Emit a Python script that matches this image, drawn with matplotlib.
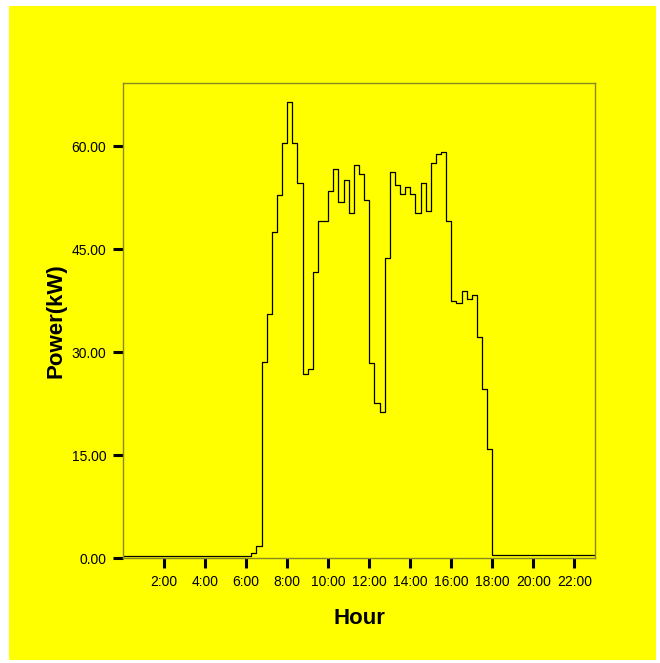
import numpy as np
import matplotlib
matplotlib.use("Agg")
import matplotlib.pyplot as plt
from matplotlib.patches import Rectangle

plt.rcParams['font.family'] = ['Liberation Sans', 'DejaVu Sans']

# 15-minute power readings (kW), starting at 0:00
night_am = [0.35] * 25  # 0:00 - 6:00
day = [
    0.7, 1.8, 28.6,                      # 6:15 - 6:45
    35.5, 47.5, 52.9, 60.5,              # 7:00 - 7:45
    66.5, 60.5, 54.6, 26.8,              # 8:00 - 8:45
    27.5, 41.6, 49.1, 49.1,              # 9:00 - 9:45
    53.4, 56.7, 51.9, 55.0,              # 10:00 - 10:45
    50.3, 57.2, 55.9, 52.1,              # 11:00 - 11:45
    28.4, 22.6, 21.2, 43.7,              # 12:00 - 12:45
    56.2, 54.3, 53.0, 54.1,              # 13:00 - 13:45
    53.1, 50.2, 54.6, 50.5,              # 14:00 - 14:45
    57.6, 58.8, 59.1, 49.1,              # 15:00 - 15:45
    37.5, 37.1, 38.9, 37.7,              # 16:00 - 16:45
    38.3, 32.2, 24.6, 15.9,              # 17:00 - 17:45
]
night_pm = [0.4] * 21  # 18:00 - 23:00
power = night_am + day + night_pm
hours = np.arange(len(power)) * 0.25

xticks = [2, 4, 6, 8, 10, 12, 14, 16, 18, 20, 22]
xticklabels = [f"{h}:00" for h in xticks]
yticks = [0, 15, 30, 45, 60]
yticklabels = [f"{v:.2f}" for v in yticks]

fig = plt.figure(figsize=(6.6, 6.63), dpi=100, facecolor="white")
fig.patches.append(Rectangle((9 / 660, 3 / 663), 647 / 660, 654 / 663,
                             transform=fig.transFigure, facecolor="#ffff00",
                             edgecolor="none", zorder=-10))

ax = fig.add_axes([123 / 660, 1 - 558 / 663, 472 / 660, 475 / 663])
ax.set_facecolor("#ffff00")
ax.step(hours, power, where="post", color="black", linewidth=0.9)

ax.set_xlim(0, 23)
ax.set_ylim(0, 69.2)
ax.set_xticks(xticks)
ax.set_xticklabels(xticklabels)
ax.set_yticks(yticks)
ax.set_yticklabels(yticklabels)
ax.tick_params(axis="both", direction="out", length=7, width=2.2,
               color="black", labelsize=10, pad=5)
for s in ax.spines.values():
    s.set_color("#8a8a20")
    s.set_linewidth(1.0)

ax.set_xlabel("Hour", fontsize=16, fontweight="bold", labelpad=14)
ax.set_ylabel("Power(kW)", fontsize=16, fontweight="bold", labelpad=4)

fig.savefig("out.png", dpi=100, facecolor=fig.get_facecolor())
